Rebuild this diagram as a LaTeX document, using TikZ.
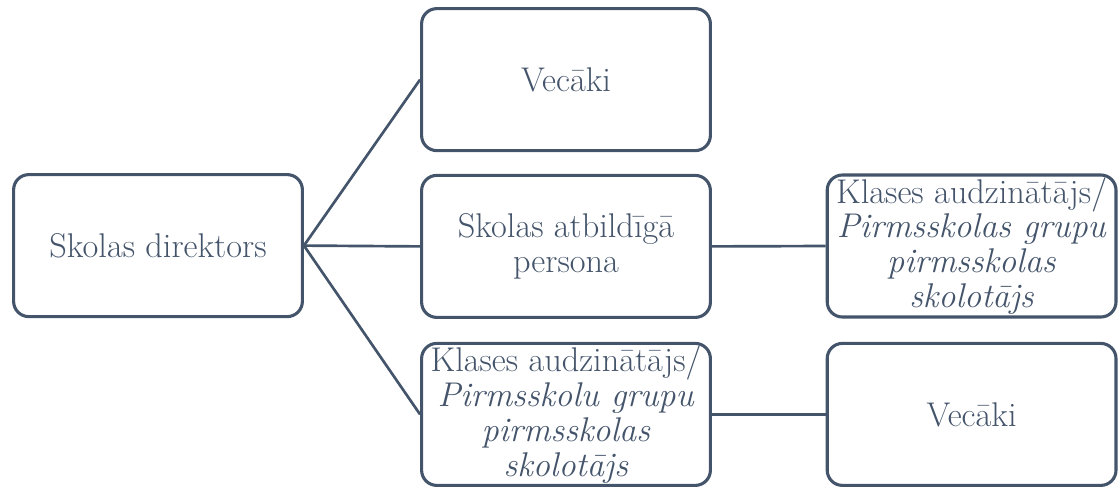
\documentclass[tikz,border=0pt]{standalone}
\usepackage{fontspec}
\definecolor{slate}{HTML}{44546A}
\begin{document}
\begin{tikzpicture}[box/.style={draw=slate, line width=2.2pt, rounded corners=0.38cm, minimum width=7.22cm, minimum height=3.55cm, inner sep=0pt, align=center, text=slate, font=\fontsize{24.4}{24.8}\selectfont}, link/.style={draw=slate, line width=1.9pt}]
            \useasboundingbox (0,0) rectangle (27.975,-12.2);

            % Draw the boxes
            \node[box] (dir) at (3.95,-6.14) {Skolas direktors};
            \node[box] (vec1) at (14.15,-1.99) {Vecāki};
            \node[box] (atb) at (14.15,-6.16) {Skolas atbildīgā\\persona};
            \node[box] (aud1) at (14.15,-10.36) {Klases audzinātājs/\\\textit{Pirmsskolu grupu}\\\textit{pirmsskolas}\\\textit{skolotājs}};
            \node[box] (aud2) at (24.29,-6.15) {Klases audzinātājs/\\\textit{Pirmsskolas grupu}\\\textit{pirmsskolas}\\\textit{skolotājs}};
            \node[box] (vec2) at (24.29,-10.36) {Vecāki};

            % Draw the connectors from the director
            \draw[link] (dir.east) -- (vec1.west);
            \draw[link] (dir.east) -- (atb.west);
            \draw[link] (dir.east) -- (aud1.west);

            % Draw the connectors to the right column
            \draw[link] (atb.east) -- (aud2.west);
            \draw[link] (aud1.east) -- (vec2.west);
\end{tikzpicture}
\end{document}
